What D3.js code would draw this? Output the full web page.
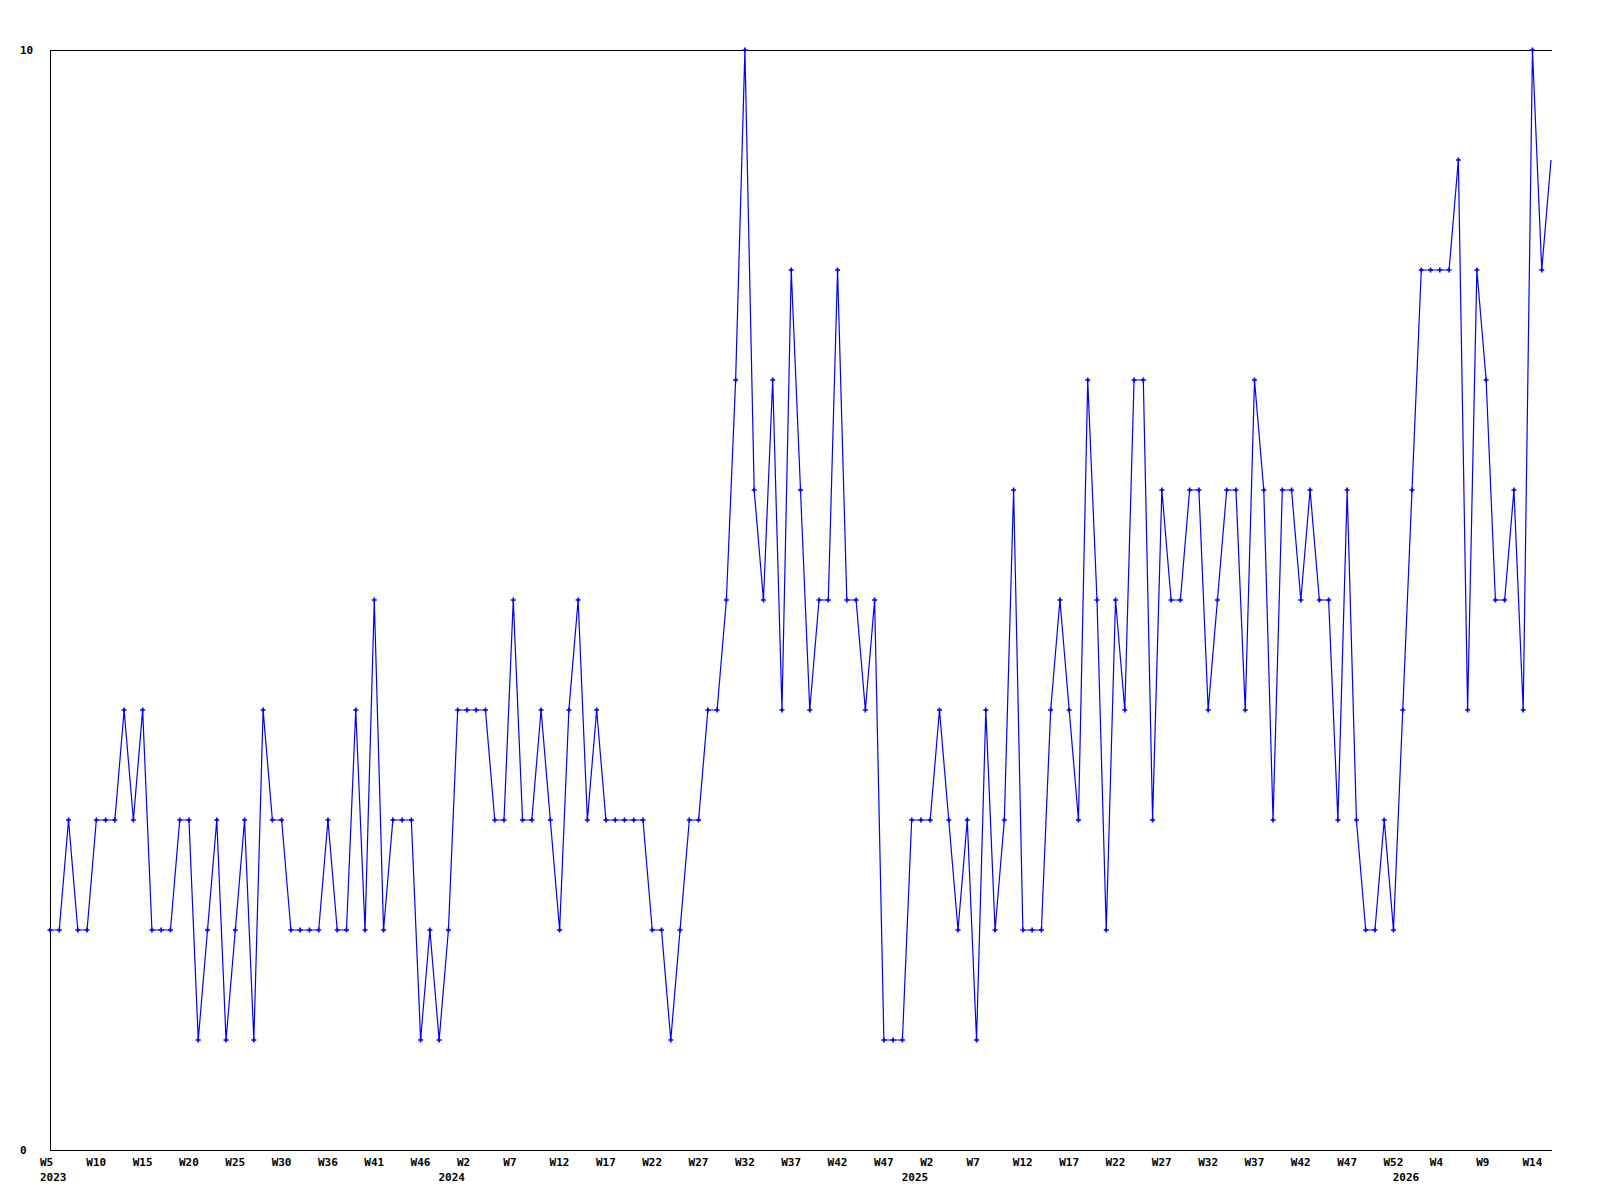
<!DOCTYPE html>
<html>
<head>
<meta charset="utf-8">
<script src="https://cdn.jsdelivr.net/npm/d3@7"></script>
<style>
  html, body { margin: 0; padding: 0; background: #fff; }
  svg { display: block; }
  text { font-family: "DejaVu Sans Mono", "Liberation Mono", monospace; font-weight: bold; font-size: 11px; fill: #000; }
</style>
</head>
<body>
<svg id="chart" width="1600" height="1200"></svg>
<script>
// ---- data ----
const values = [
  2,2,3,2,2,3,3,3,4,3, 4,2,2,2,3,3,1,2,3,1,
  2,3,1,4,3,3,2,2,2,2, 3,2,2,4,2,5,2,3,3,3,
  1,2,1,2,4,4,4,4,3,3, 5,3,3,4,3,2,4,5,3,4,
  3,3,3,3,3,2,2,1,2,3, 3,4,4,5,7,10,6,5,7,4,
  8,6,4,5,5,8,5,5,4,5, 1,1,1,3,3,3,4,3,2,3,
  1,4,2,3,6,2,2,2,4,5, 4,3,7,5,2,5,4,7,7,3,
  6,5,5,6,6,4,5,6,6,4, 7,6,3,6,6,5,6,5,5,3,
  6,3,2,2,3,2,4,6,8,8, 8,8,9,4,8,7,5,5,6,4,
  10,8,9
];
const tickLabels = [
  "W5","W10","W15","W20","W25","W30","W36","W41","W46",
  "W2","W7","W12","W17","W22","W27","W32","W37","W42","W47",
  "W2","W7","W12","W17","W22","W27","W32","W37","W42","W47","W52",
  "W4","W9","W14"
];
const tickStep = 5;
const yearLabels = ["2023","2024","2025","2026"];
const yearAt = [0, 43, 93, 146];
const yTicks = [0, 10];

(function () {
  // ---- layout ----
  const pLeft = 50, pRight = 1551, pTop = 50, pBottom = 1150;
  const svg = d3.select("#chart");

  const x = d3.scaleLinear().domain([0, values.length - 1]).range([pLeft, pRight]);
  const y = d3.scaleLinear().domain([0, 10]).range([pBottom, pTop]);

  // frame (left, top, bottom)
  const frame = svg.append("g").attr("stroke", "#000").attr("stroke-width", 1).attr("shape-rendering", "crispEdges");
  frame.append("line").attr("x1", pLeft + 0.5).attr("x2", pLeft + 0.5).attr("y1", pTop).attr("y2", pBottom + 1);
  frame.append("line").attr("x1", pLeft).attr("x2", pRight + 1).attr("y1", pTop + 0.5).attr("y2", pTop + 0.5);
  frame.append("line").attr("x1", pLeft).attr("x2", pRight + 1).attr("y1", pBottom + 0.5).attr("y2", pBottom + 0.5);

  // y labels
  svg.append("g").selectAll("text").data(yTicks).join("text")
    .attr("x", 20).attr("y", d => y(d) + 4).text(d => d);

  // x tick labels
  svg.append("g").selectAll("text").data(tickLabels).join("text")
    .attr("x", (d, i) => x(i * tickStep) - 10).attr("y", 1166).text(d => d);

  // year labels
  svg.append("g").selectAll("text").data(yearLabels).join("text")
    .attr("x", (d, i) => x(yearAt[i]) - 10).attr("y", 1181).text(d => d);

  // line
  const line = d3.line().x((d, i) => x(i)).y(d => y(d));
  svg.append("path").datum(values)
    .attr("fill", "none").attr("stroke", "#0000ff").attr("stroke-width", 1.2)
    .attr("d", line);

  // markers (all but the last point, which sits on the edge)
  const cross = d3.symbol().type(d3.symbolCross).size(14);
  svg.append("g").attr("fill", "#0000ff").selectAll("path")
    .data(values.slice(0, values.length - 1)).join("path")
    .attr("transform", (d, i) => `translate(${x(i)},${y(d)})`)
    .attr("d", cross);
})();
</script>
</body>
</html>
